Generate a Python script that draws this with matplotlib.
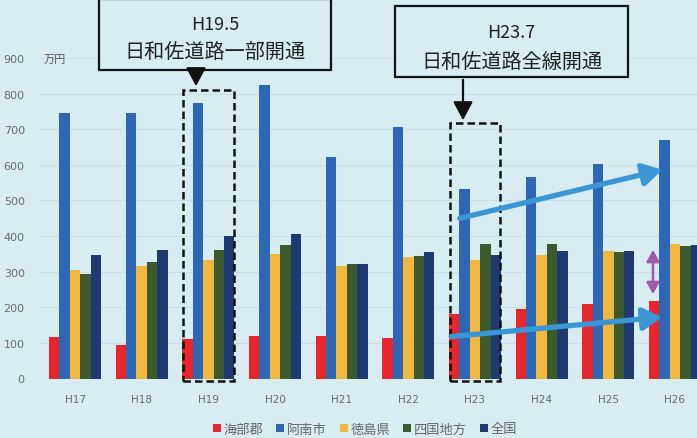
import matplotlib
matplotlib.use("Agg")
import matplotlib.pyplot as plt
import numpy as np
from matplotlib.patches import Rectangle, FancyArrowPatch

plt.rcParams['font.family'] = ['Noto Sans CJK JP', 'DejaVu Sans']

years = ["H17", "H18", "H19", "H20", "H21", "H22", "H23", "H24", "H25", "H26"]
series_names = ["海部郡", "阿南市", "徳島県", "四国地方", "全国"]
kaifu = [117, 94, 110, 119, 119, 114, 182, 194, 208, 218]
anan = [745, 745, 773, 824, 621, 705, 532, 565, 603, 669]
tokushima = [306, 315, 332, 349, 316, 341, 334, 346, 359, 378]
shikoku = [293, 326, 360, 376, 322, 345, 379, 378, 356, 371]
zenkoku = [348, 362, 400, 405, 322, 355, 346, 357, 359, 376]
colors = ["#e8252a", "#2e66b6", "#f2b83e", "#3d5a2e", "#1d3b70"]

BG = "#d7edf1"
W, H = 697, 439

def fx(x):
    return x / W

def fy(y):
    return 1 - y / H

fig = plt.figure(figsize=(W / 100, H / 100), dpi=100, facecolor=BG)
ax = fig.add_axes([fx(40), fy(379.5), (W - 40) / W, 320.5 / H])
ax.set_facecolor(BG)

data = [kaifu, anan, tokushima, shikoku, zenkoku]
x = np.arange(len(years))
bw = 0.156
for i, (name, vals, c) in enumerate(zip(series_names, data, colors)):
    ax.bar(x + (i - 2) * bw, vals, width=bw, color=c, label=name, zorder=3)

ax.set_xlim(-0.525, 9.33)
ax.set_ylim(0, 900)
ax.set_yticks(np.arange(0, 901, 100))
ax.set_xticks(x)
ax.set_xticklabels(years, fontsize=7.5, color="#6a6a6a", family=['DejaVu Sans'])
ax.tick_params(axis='y', length=0, pad=11, labelsize=8, labelcolor="#6a6a6a")
ax.tick_params(axis='x', length=0, pad=11)
for lab in ax.get_yticklabels():
    lab.set_family(['DejaVu Sans'])
for s in ax.spines.values():
    s.set_visible(False)
ax.grid(axis='y', color="#c8dfe4", lw=0.8, zorder=0)
ax.set_axisbelow(True)

fig.text(fx(44), fy(60), "万円", fontsize=8, color="#555555", va='center', ha='left')

# dashed boxes around H19 and H23 groups
for gi, top in [(2, 810), (6, 717)]:
    ax.add_patch(Rectangle((gi - 0.38, -7), 0.76, top + 7, fill=False, ec="#111111",
                           lw=1.8, ls=(0, (3, 1.6)), zorder=5, clip_on=False))

# trend arrows
for (x0, y0), (x1, y1) in [((5.73, 448), (8.85, 588)), ((5.6, 117), (8.85, 173))]:
    ax.add_patch(FancyArrowPatch((x0, y0), (x1, y1),
                                 arrowstyle='-|>,head_length=0.6,head_width=0.35',
                                 mutation_scale=19, lw=3.8, color="#3b96d6",
                                 zorder=6, clip_on=False))
# purple double arrow
ax.add_patch(FancyArrowPatch((8.67, 229), (8.67, 369),
                             arrowstyle='<|-|>,head_length=0.5,head_width=0.28',
                             mutation_scale=14, lw=1.8, color="#a05aa8", zorder=6))

# callout boxes
boxes = [((99, 0, 331, 71), "H19.5", "日和佐道路一部開通", (25, 52), (196, 71, 90)),
         ((395, 7, 628, 78), "H23.7", "日和佐道路全線開通", (33, 62), (463, 78, 124))]
for (x0, y0, x1, y1), t1, t2, (ty1, ty2), (ax_x, ay0, ay1) in boxes:
    fig.add_artist(Rectangle((fx(x0), fy(y1)), fx(x1) - fx(x0), fy(y0) - fy(y1),
                             transform=fig.transFigure, fc=BG, ec="#111111", lw=1.6, zorder=10))
    cx = (x0 + x1) / 2
    fig.text(fx(cx), fy(ty1), t1, fontsize=13, ha='center', va='center', color="#222222", zorder=11)
    fig.text(fx(cx), fy(ty2), t2, fontsize=14.5, ha='center', va='center', color="#222222", zorder=11)
    fig.add_artist(FancyArrowPatch((fx(ax_x), fy(ay0)), (fx(ax_x), fy(ay1)), transform=fig.transFigure,
                                   arrowstyle='-|>,head_length=0.75,head_width=0.4',
                                   mutation_scale=15, lw=1.6, color="#111111", zorder=10))

leg = fig.legend(loc='center', bbox_to_anchor=(fx(365), fy(430)), ncol=5, frameon=False,
                 fontsize=9.5, handlelength=0.6, handleheight=0.6, handletextpad=0.2,
                 columnspacing=1.0, borderaxespad=0)
for t in leg.get_texts():
    t.set_color("#666666")

fig.savefig("out.png", dpi=100, facecolor=BG)
